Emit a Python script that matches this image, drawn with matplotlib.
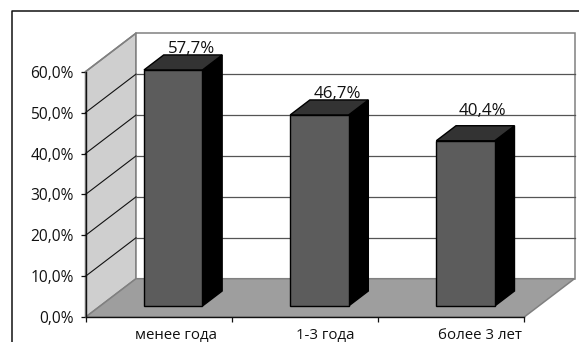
import matplotlib
matplotlib.use("Agg")
import matplotlib.pyplot as plt
from matplotlib.patches import Polygon
from matplotlib.lines import Line2D

plt.rcParams['font.family'] = ['Open Sans', 'DejaVu Sans']

categories = ['менее года', '1-3 года', 'более 3 лет']
values = [57.7, 46.7, 40.4]
value_ticks = [0, 10, 20, 30, 40, 50, 60]

W, H = 579, 342
fig = plt.figure(figsize=(W / 100, H / 100), dpi=100, facecolor='white')

# plot box of the front plane, in pixels
X0, X1, Y0, Y1 = 85.5, 524.0, 317.2, 71.7
ax = fig.add_axes([X0 / W, 1 - Y0 / H, (X1 - X0) / W, (Y0 - Y1) / H])
ax.set_xlim(0, 3)
ax.set_ylim(0, 60)
ax.patch.set_visible(False)

# oblique depth of the 3-D box, in data units
DX = 50.5 / ((X1 - X0) / 3)
DY = 38.5 / ((Y0 - Y1) / 60)
BAR_WIDTH = 0.40
BAR_FRONT, BAR_BACK = 0.29, 0.68
LABEL_X = [0.227, 0.225, 0.215]
LABEL_PAD = [2, 2, 11]
CATEGORY_X = [0.62, 1.643, 2.70]


def shift(x, y, depth):
    return (x + DX * depth, y + DY * depth)


def poly(points, face, edge, lw=1.0, z=1):
    ax.add_patch(Polygon(points, closed=True, facecolor=face, edgecolor=edge,
                         linewidth=lw, zorder=z, clip_on=False, joinstyle='miter'))


# outer chart frame, running off the right and bottom edges
fig.add_artist(Line2D([11.5 / W, 11.5 / W, 1], [0, 1 - 10.5 / H, 1 - 10.5 / H],
                      color='#111111', lw=1.1))

# side wall, back wall and floor
poly([(0, 0), shift(0, 0, 1), shift(0, 60, 1), (0, 60)], '#cfcfcf', '#808080', 1.1, 1)
poly([shift(0, 0, 1), shift(3, 0, 1), shift(3, 60, 1), shift(0, 60, 1)], 'white', '#808080', 1.1, 1)
poly([(0, 0), (3, 0), shift(3, 0, 1), shift(0, 0, 1)], '#9e9e9e', '#808080', 1.1, 2)

# gridlines bend from the side wall onto the back wall
for v in value_ticks[1:-1]:
    a, b = shift(0, v, 1), shift(3, v, 1)
    ax.plot([0, a[0]], [v, a[1]], color='#111111', lw=0.8, zorder=3, clip_on=False)
    ax.plot([a[0], b[0]], [a[1], b[1]], color='#555555', lw=0.9, zorder=3, clip_on=False)
top = shift(0, 60, 1)
ax.plot([0, top[0]], [60, top[1]], color='#808080', lw=1.1, zorder=3, clip_on=False)

# bars as front, top and side faces
for i, (name, v) in enumerate(zip(categories, values)):
    left = i + 0.5 - BAR_WIDTH / 2
    right = left + BAR_WIDTH
    fl, fr = shift(left, 0, BAR_FRONT), shift(right, 0, BAR_FRONT)
    tl, tr = shift(left, v, BAR_FRONT), shift(right, v, BAR_FRONT)
    bl_t, br_t = shift(left, v, BAR_BACK), shift(right, v, BAR_BACK)
    br_b = shift(right, 0, BAR_BACK)
    z = 5
    poly([fr, br_b, br_t, tr], '#000000', '#000000', 1.0, z)
    poly([tl, tr, br_t, bl_t], '#333333', '#000000', 1.0, z)
    poly([fl, fr, tr, tl], '#5c5c5c', '#000000', 1.0, z)
    lx, ly = shift(i + 0.5, v, BAR_BACK)
    ax.annotate(f'{v:.1f}%'.replace('.', ','), xy=(i + 0.5 + LABEL_X[i], ly),
                xytext=(0, LABEL_PAD[i] * 0.72), textcoords='offset points',
                ha='center', va='baseline', fontsize=12.2, color='#111111',
                zorder=6, annotation_clip=False)

# axes
for side in ('top', 'right'):
    ax.spines[side].set_visible(False)
for side in ('left', 'bottom'):
    ax.spines[side].set_color('#111111')
    ax.spines[side].set_linewidth(1.0)
    ax.spines[side].set_zorder(4)
ax.set_yticks(value_ticks)
ax.set_yticklabels([f'{v:.1f}%'.replace('.', ',') for v in value_ticks])
ax.set_xticks([0, 1, 2, 3])
ax.set_xticklabels([])
ax.set_xticks(CATEGORY_X, minor=True)
ax.set_xticklabels(categories, minor=True)
ax.tick_params(axis='y', which='major', length=3.5, width=0.9, color='#111111',
               labelsize=11.2, labelcolor='#111111', pad=5)
ax.tick_params(axis='x', which='major', length=3.5, width=0.9, color='#111111')
ax.tick_params(axis='x', which='minor', length=0, labelsize=10.8, labelcolor='#111111', pad=7.5)

fig.savefig('out.png', dpi=100)
